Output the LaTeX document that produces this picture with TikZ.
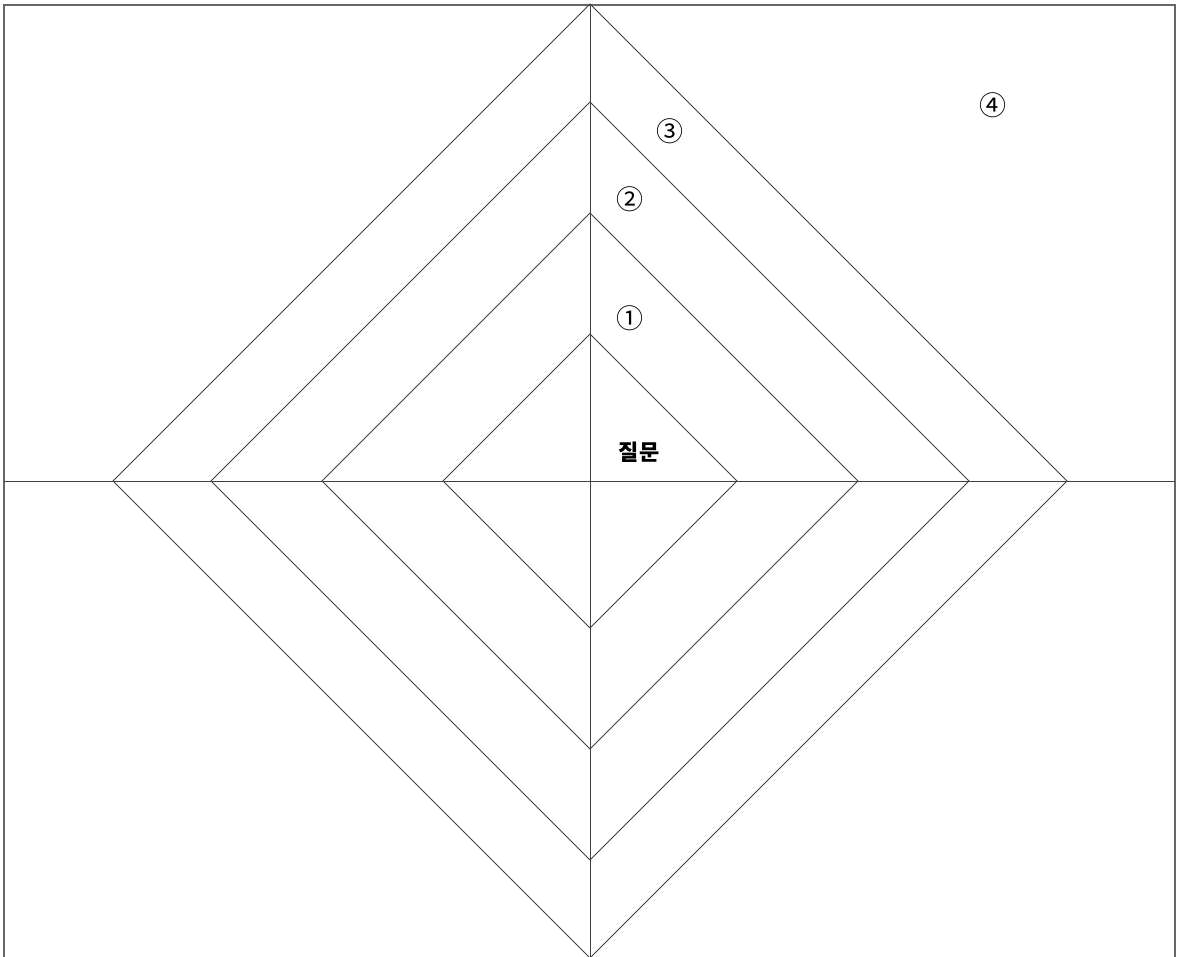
\documentclass[tikz,border=0pt]{standalone}
\usepackage{fontspec}
\usetikzlibrary{calc}
\newfontfamily\kr{Noto Sans CJK KR}
\begin{document}
\begin{tikzpicture}[x=1pt,y=-1pt,
  ln/.style={draw=black!75,line width=0.9pt},
  frame/.style={draw=black!60,line width=1.4pt},
  lbl/.style={inner sep=0pt,font=\kr\fontsize{22}{22}\selectfont},
  num/.style={inner sep=0pt,font=\kr\fontsize{27}{27}\selectfont}]
\useasboundingbox (0,0) rectangle (1177,956);
\coordinate (c) at (590,481);
% frame (open at bottom)
\draw[frame] (4,960) -- (4,5) -- (1175,5) -- (1175,960);
% axes
\draw[ln] (4,481) -- (1175,481);
\draw[ln] (590,5) -- (590,960);
% diamonds
\foreach \r in {147,268,379,477}{
  \draw[ln] ($(c)+(0,-\r)$) -- ($(c)+(\r,0)$) -- ($(c)+(0,\r)$) -- ($(c)+(-\r,0)$) -- cycle;
}
\node[lbl] (q) at (639,452) {\bfseries 질문};
\node[num] (n1) at (630,318) {①};
\node[num] (n2) at (630,199) {②};
\node[num] (n3) at (670,131) {③};
\node[num] (n4) at (993,105) {④};
\end{tikzpicture}
\end{document}
